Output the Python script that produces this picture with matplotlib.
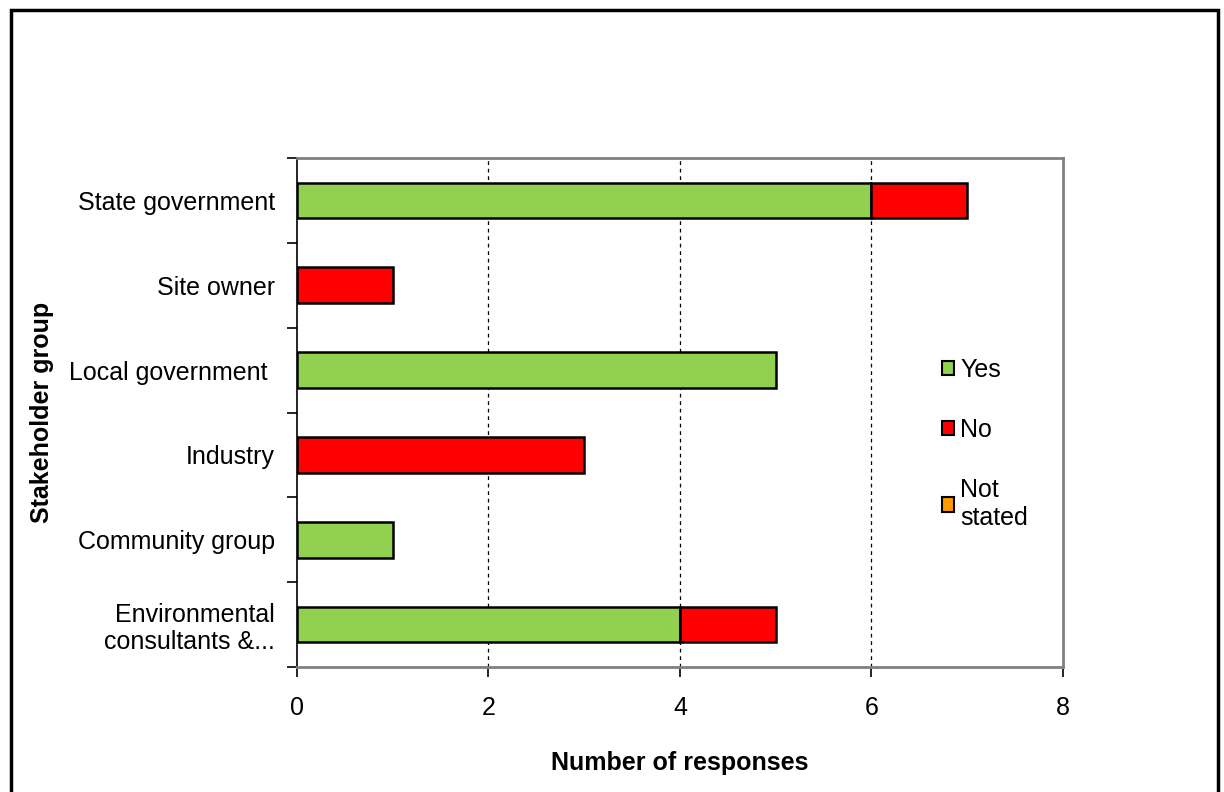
import numpy as np
import matplotlib.pyplot as plt
from matplotlib.patches import Patch, Rectangle

plt.rcParams["font.family"] = ["Liberation Sans", "DejaVu Sans"]

groups = ["State government", "Site owner", "Local government ", "Industry",
          "Community group", "Environmental\nconsultants &..."]
yes = [6, 0, 5, 0, 1, 4]
no = [1, 1, 0, 3, 0, 1]
not_stated = [0, 0, 0, 0, 0, 0]

colors = {"Yes": "#92D050", "No": "#FF0000", "Not\nstated": "#FF9900"}

fig = plt.figure(figsize=(12.24, 7.92), dpi=100)
ax = fig.add_axes([0.2426, 0.1578, 0.6258, 0.6427])

y = np.arange(len(groups))[::-1]
left = np.zeros(len(groups))
for name, vals in zip(colors, [yes, no, not_stated]):
    vals = np.array(vals, dtype=float)
    mask = vals > 0
    ax.barh(y[mask], vals[mask], left=left[mask], height=0.42,
            color=colors[name], edgecolor="black", linewidth=1.8, zorder=3)
    left += vals

ax.set_xlim(0, 8)
ax.set_ylim(-0.5, len(groups) - 0.5)
ax.set_xticks([0, 2, 4, 6, 8])
ax.tick_params(axis="x", labelsize=18, length=7, width=1.2, pad=14)
ax.set_yticks(y)
ax.set_yticklabels(groups, fontsize=18, linespacing=1.15)
ax.tick_params(axis="y", length=0, pad=16)
ax.set_yticks(np.arange(-0.5, len(groups), 1), minor=True)
ax.tick_params(axis="y", which="minor", length=7, width=1.2)

for x in [2, 4, 6]:
    ax.axvline(x, color="black", linestyle=(0, (3, 3)), linewidth=0.9, zorder=1)

for side in ["top", "right", "bottom"]:
    ax.spines[side].set_color("#808080")
    ax.spines[side].set_linewidth(2)
ax.spines["left"].set_color("black")
ax.spines["left"].set_linewidth(1.2)

ax.set_xlabel("Number of responses", fontsize=18, fontweight="bold", labelpad=22)
ax.set_ylabel("Stakeholder group", fontsize=18, fontweight="bold", labelpad=11)

handles = [Patch(facecolor=c, edgecolor="black", linewidth=1.5) for c in colors.values()]
fig.legend(handles, list(colors), loc="upper left", bbox_to_anchor=(0.751, 0.577),
           frameon=False, fontsize=18, handlelength=0.5, handleheight=0.5,
           handletextpad=0.25, labelspacing=1.45)

# outer chart border
fig.patches.append(Rectangle((0.009, -0.05), 0.986, 1.037, transform=fig.transFigure,
                             fill=False, edgecolor="black", linewidth=2.5))

fig.savefig("out.png", dpi=100)
